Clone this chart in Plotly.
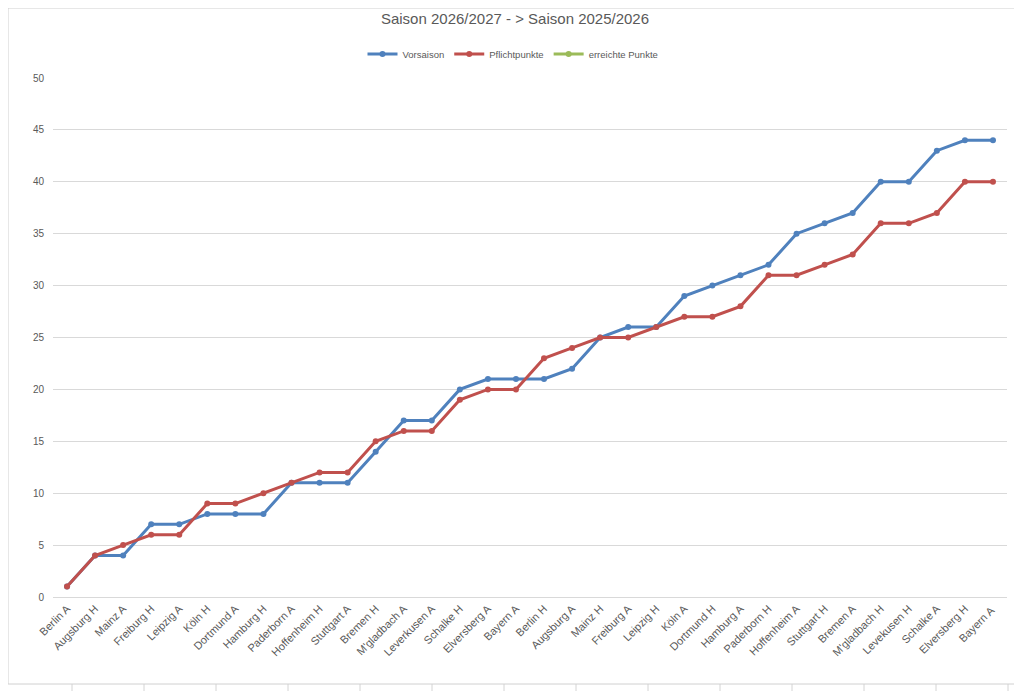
import plotly.graph_objects as go

# Spieltage (Gegner + Heim/Auswärts)
spiele = ["Berlin A", "Augsburg H", "Mainz A", "Freiburg H", "Leipzig A", "Köln H",
          "Dortmund A", "Hamburg H", "Paderborn A", "Hoffenheim H", "Stuttgart A",
          "Bremen H", "M'gladbach A", "Leverkusen A", "Schalke H", "Elversberg A",
          "Bayern A", "Berlin H", "Augsburg A", "Mainz H", "Freiburg A", "Leipzig H",
          "Köln A", "Dortmund H", "Hamburg A", "Paderborn H", "Hoffenheim A",
          "Stuttgart H", "Bremen A", "M'gladbach H", "Levekusen H", "Schalke A",
          "Elversberg H", "Bayern A "]

vorsaison = [1, 4, 4, 7, 7, 8, 8, 8, 11, 11, 11, 14, 17, 17, 20, 21, 21, 21, 22, 25,
             26, 26, 29, 30, 31, 32, 35, 36, 37, 40, 40, 43, 44, 44]
pflichtpunkte = [1, 4, 5, 6, 6, 9, 9, 10, 11, 12, 12, 15, 16, 16, 19, 20, 20, 23, 24,
                 25, 25, 26, 27, 27, 28, 31, 31, 32, 33, 36, 36, 37, 40, 40]
erreichte_punkte = [None] * len(spiele)

# die Seite hat 8px Rand, also Figur um 8px kleiner
OFF = 8
W, H = 1022 - OFF, 691 - OFF
ML, MR, MT, MB = 53 - OFF, 15, 78 - OFF, 94
PW, PH = W - ML - MR, H - MT - MB


def px(x):
    return (x - OFF - ML) / PW


def py(y):
    return (H - MB - (y - OFF)) / PH


fig = go.Figure()
for name, werte, farbe in [("Vorsaison", vorsaison, "#4F81BD"),
                           ("Pflichtpunkte", pflichtpunkte, "#C0504D"),
                           ("erreichte Punkte", erreichte_punkte, "#9BBB59")]:
    fig.add_trace(go.Scatter(x=list(range(len(spiele))), y=werte, name=name,
                             mode="lines+markers",
                             line=dict(color=farbe, width=3),
                             marker=dict(color=farbe, size=6)))

# Tabellenblatt-Gitter rund um das Diagramm
shapes = []
grau = "#D4D4D4"
for x in range(72, 1022 + 1, 72):
    shapes.append(dict(type="line", xref="paper", yref="paper", x0=px(x), x1=px(x),
                       y0=py(OFF), y1=py(691), line=dict(color=grau, width=1), layer="below"))
y = 14
while y < 691:
    shapes.append(dict(type="line", xref="paper", yref="paper", x0=px(OFF), x1=px(1022),
                       y0=py(y), y1=py(y), line=dict(color=grau, width=1), layer="below"))
    y += 18.03
shapes.append(dict(type="rect", xref="paper", yref="paper", x0=px(OFF), x1=px(1016),
                   y0=py(OFF), y1=py(684), fillcolor="white",
                   line=dict(color="#D0D0D0", width=1), layer="below"))

fig.update_layout(
    width=W, height=H,
    margin=dict(l=ML, r=MR, t=MT, b=MB),
    paper_bgcolor="white", plot_bgcolor="rgba(0,0,0,0)",
    font=dict(family="Liberation Sans, Arial, sans-serif", color="#595959", size=10),
    title=dict(text="Saison 2026/2027 - > Saison 2025/2026", x=0.5, xanchor="center",
               y=1 - (19 - OFF) / H, yanchor="middle", font=dict(size=15, color="#595959")),
    legend=dict(orientation="h", x=px(513), xanchor="center", y=py(54), yanchor="middle",
                font=dict(size=9.5, color="#595959"), itemwidth=30, bgcolor="rgba(0,0,0,0)"),
    shapes=shapes,
    showlegend=True,
)
fig.update_xaxes(tickmode="array", tickvals=list(range(len(spiele))), ticktext=spiele,
                 tickangle=-45, range=[-0.5, len(spiele) - 0.5], showgrid=False,
                 showline=True, linecolor="#D9D9D9", zeroline=False,
                 tickfont=dict(size=11, color="#595959"))
fig.update_yaxes(range=[0, 50], dtick=5, showgrid=True, gridcolor="#D9D9D9",
                 zeroline=False, showline=False, ticks="", ticklabelstandoff=8,
                 tickfont=dict(size=10, color="#595959"))

fig.write_html("out.html")
